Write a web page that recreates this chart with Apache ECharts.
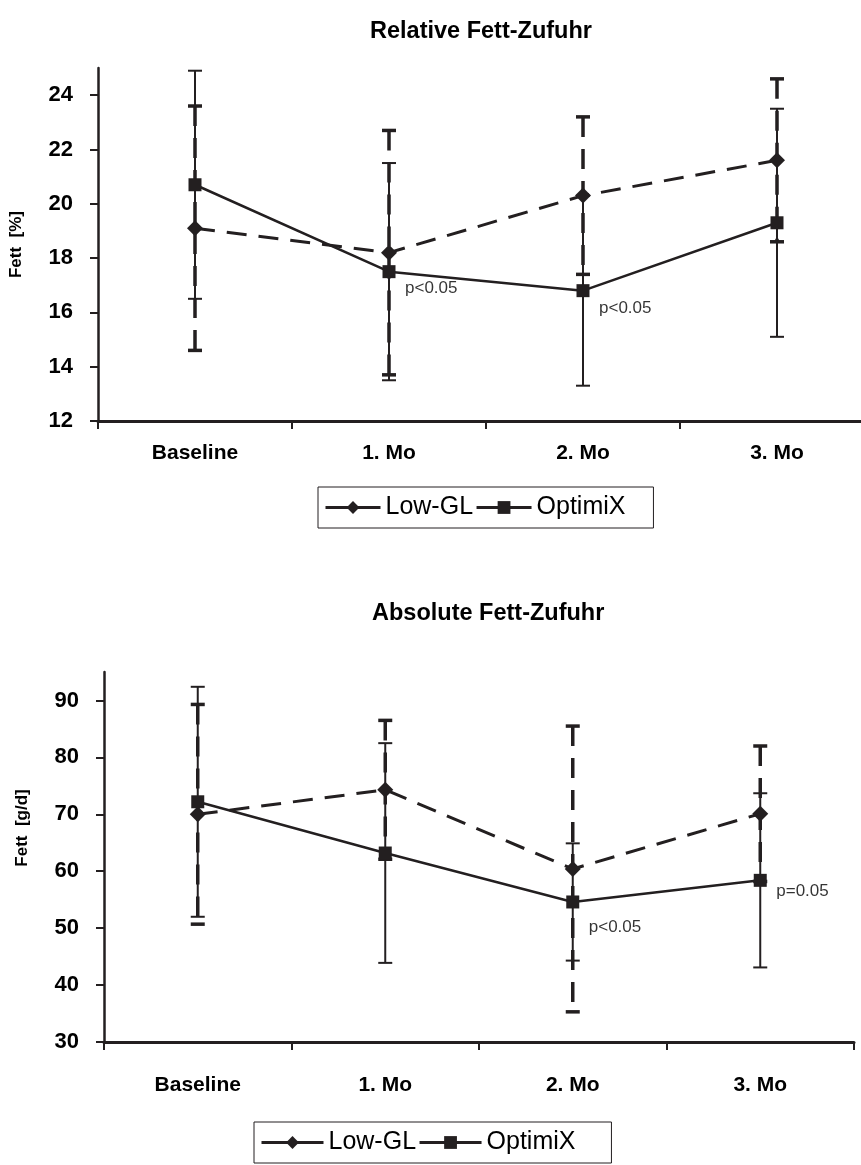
<!DOCTYPE html>
<html>
<head>
<meta charset="utf-8">
<script src="https://cdn.jsdelivr.net/npm/echarts@6/dist/echarts.min.js"></script>
<style>
html, body { margin: 0; padding: 0; background: #fff; }
#main { width: 861px; height: 1165px; }
</style>
</head>
<body>
<div id="main"></div>
<script>
var categories = ['Baseline', '1. Mo', '2. Mo', '3. Mo']
var seriesNames = ['Low-GL', 'OptimiX']

// Relative Fett-Zufuhr [%], Mittelwert und SD
var relLowGL = [19.1, 18.2, 20.3, 21.6]
var relLowGLsd = [4.5, 4.5, 2.9, 3.0]
var relOptimiX = [20.7, 17.5, 16.8, 19.3]
var relOptimiXsd = [4.2, 4.0, 3.5, 4.2]

// Absolute Fett-Zufuhr [g/d], Mittelwert und SD
var absLowGL = [70.0, 74.3, 60.4, 70.1]
var absLowGLsd = [19.3, 12.2, 25.1, 11.9]
var absOptimiX = [72.2, 63.2, 54.6, 58.4]
var absOptimiXsd = [20.2, 19.3, 10.3, 15.3]

var relTicks = [12, 14, 16, 18, 20, 22, 24]
var absTicks = [30, 40, 50, 60, 70, 80, 90]

// p-Werte: [Kategorie, y-Anker, Text]
var relNotes = [['1. Mo', 16.9, 'p<0.05'], ['2. Mo', 16.15, 'p<0.05']]
var absNotes = [['2. Mo', 50.1, 'p<0.05'], ['3. Mo', 56.4, 'p=0.05']]

var ink = '#231f20'
var font = "'Liberation Sans', Arial, sans-serif"

function sdData(mean, sd) {
    return mean.map((m, i) => [i, m, sd[i]])
}

function errorBars(width, dash) {
    return function (params, api) {
        var x = api.value(0), m = api.value(1), s = api.value(2)
        var hi = api.coord([x, m + s]), lo = api.coord([x, m - s])
        var w = 7
        var cap = { stroke: ink, lineWidth: width }
        return {
            type: 'group',
            children: [
                { type: 'line', shape: { x1: hi[0], y1: hi[1], x2: lo[0], y2: lo[1] },
                  style: { stroke: ink, lineWidth: width, lineDash: dash } },
                { type: 'line', shape: { x1: hi[0] - w, y1: hi[1], x2: hi[0] + w, y2: hi[1] }, style: cap },
                { type: 'line', shape: { x1: lo[0] - w, y1: lo[1], x2: lo[0] + w, y2: lo[1] }, style: cap }
            ]
        }
    }
}

function xAxis(gridIndex) {
    return {
        type: 'category', gridIndex: gridIndex, data: categories, boundaryGap: true,
        axisLine: { lineStyle: { color: ink, width: 3 } },
        axisTick: { show: true, length: 8, lineStyle: { color: ink, width: 2 } },
        axisLabel: { color: '#000', fontFamily: font, fontWeight: 'bold', fontSize: 21,
                     margin: gridIndex == 0 ? 22 : 33 },
        splitLine: { show: false }
    }
}

function yAxis(gridIndex, min, max, ticks, name, shift) {
    return {
        type: 'value', gridIndex: gridIndex, min: min, max: max,
        name: name, nameLocation: 'middle', nameGap: 73, nameRotate: 90,
        nameTextStyle: { color: '#000', fontFamily: font, fontWeight: 'bold', fontSize: 17,
                         padding: [0, 0, 0, shift] },
        axisLine: { show: true, lineStyle: { color: ink, width: 2.5 } },
        axisTick: { show: true, length: 8, customValues: ticks, lineStyle: { color: ink, width: 2 } },
        axisLabel: { color: '#000', fontFamily: font, fontWeight: 'bold', fontSize: 22, margin: 25,
                     customValues: ticks },
        splitLine: { show: false }
    }
}

function lines(idx, low, opt) {
    return [
        { name: 'Low-GL', type: 'line', xAxisIndex: idx, yAxisIndex: idx, data: low, z: 3,
          symbol: 'diamond', symbolSize: [16, 16], color: ink,
          lineStyle: { color: ink, width: 3, type: [20, 12] }, itemStyle: { color: ink } },
        { name: 'OptimiX', type: 'line', xAxisIndex: idx, yAxisIndex: idx, data: opt, z: 3,
          symbol: 'rect', symbolSize: 13, color: ink,
          lineStyle: { color: ink, width: 2.5 }, itemStyle: { color: ink } }
    ]
}

function bars(idx, name, mean, sd, width, dash) {
    return { name: name, type: 'custom', xAxisIndex: idx, yAxisIndex: idx, z: 2,
             data: sdData(mean, sd), encode: { x: 0, y: 1 }, renderItem: errorBars(width, dash) }
}

function notes(idx, list) {
    return { name: 'notes' + idx, type: 'scatter', xAxisIndex: idx, yAxisIndex: idx, symbolSize: 0,
             data: list.map(n => [n[0], n[1]]),
             label: { show: true, position: 'right', distance: 16, color: '#000',
                      fontFamily: font, fontSize: 17,
                      formatter: p => list[p.dataIndex][2] } }
}

function legend(left, top, itemWidth, padRight) {
    return {
        data: seriesNames, left: left, top: top, orient: 'horizontal',
        itemWidth: itemWidth, itemHeight: 16, itemGap: 2, padding: [8, padRight, 8, 6],
        borderColor: ink, borderWidth: 1,
        lineStyle: { type: 'solid', width: 3 },
        textStyle: { color: '#000', fontFamily: font, fontSize: 25 }
    }
}

var chart = echarts.init(document.getElementById('main'), null, { renderer: 'canvas' })

chart.setOption({
    animation: false,
    backgroundColor: '#fff',
    title: [
        { text: 'Relative Fett-Zufuhr', left: 365, top: 15,
          textStyle: { color: '#000', fontFamily: font, fontWeight: 'bold', fontSize: 23.5 } },
        { text: 'Absolute Fett-Zufuhr', left: 367, top: 597,
          textStyle: { color: '#000', fontFamily: font, fontWeight: 'bold', fontSize: 23.5 } }
    ],
    legend: [legend(318, 487, 55, 28), legend(254, 1122, 62, 36)],
    grid: [
        { left: 98, top: 68, width: 776, height: 353, outerBoundsMode: 'none' },
        { left: 104, top: 672, width: 750, height: 370, outerBoundsMode: 'none' }
    ],
    xAxis: [xAxis(0), xAxis(1)],
    yAxis: [
        yAxis(0, 12, 25, relTicks, 'Fett  [%]', 0),
        yAxis(1, 30, 95, absTicks, 'Fett  [g/d]', 58)
    ],
    series: [
        bars(0, 'sd-opt-rel', relOptimiX, relOptimiXsd, 2, null),
        bars(0, 'sd-low-rel', relLowGL, relLowGLsd, 3.5, [20, 12]),
        ...lines(0, relLowGL, relOptimiX),
        notes(0, relNotes),
        bars(1, 'sd-opt-abs', absOptimiX, absOptimiXsd, 2, null),
        bars(1, 'sd-low-abs', absLowGL, absLowGLsd, 3.5, [20, 12]),
        ...lines(1, absLowGL, absOptimiX),
        notes(1, absNotes)
    ]
})
</script>
</body>
</html>
